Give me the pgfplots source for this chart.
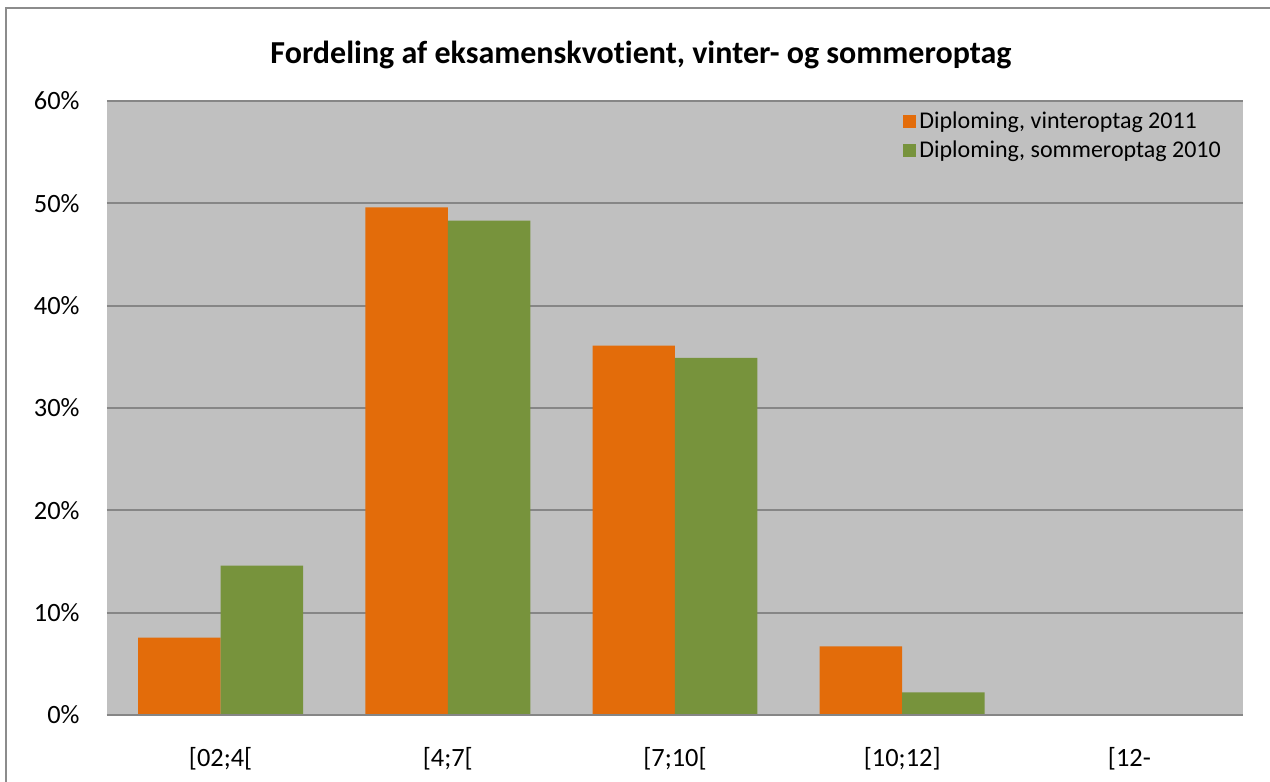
\documentclass[border=0pt]{standalone}
\usepackage{pgfplots}
\pgfplotsset{compat=1.18}
\usepackage{fontspec}
\setmainfont{Carlito}[Ligatures=NoCommon]
\definecolor{bgc}{HTML}{C0C0C0}
\definecolor{gridc}{HTML}{868686}
\definecolor{orng}{HTML}{E36C0A}
\definecolor{grn}{HTML}{77933C}
\definecolor{framec}{HTML}{8C8C8C}
\begin{document}
\begin{tikzpicture}
\useasboundingbox (-53.5pt,-33.5pt) rectangle (581.5pt,357.5pt);
\draw[framec, line width=0.8pt] (-50.5pt,-40pt) -- (-50.5pt,353.5pt) -- (600pt,353.5pt);
\node[font=\fontsize{16}{18}\selectfont\bfseries] at (267pt,330pt) {Fordeling af eksamenskvotient, vinter- og sommeroptag};
\begin{axis}[
  at={(0pt,0pt)}, anchor=south west,
  scale only axis, width=568pt, height=307pt,
  xmin=-0.5, xmax=4.5, ymin=0, ymax=60,
  ybar=0pt, bar width=0.363,
  axis background/.style={fill=bgc},
  axis line style={draw=none},
  ymajorgrids, major grid style={gridc, line width=1pt},
  xtick={0,1,2,3,4},
  xticklabels={{[02;4[},{[4;7[},{[7;10[},{[10;12]},{[12-}},
  ytick={0,10,20,30,40,50,60},
  yticklabels={0\%,10\%,20\%,30\%,40\%,50\%,60\%},
  major tick length=0pt,
  tick style={draw=none},
  tick label style={font=\fontsize{13.2}{15}\selectfont, inner sep=0pt},
  yticklabel style={anchor=east},
  xticklabel style={anchor=north},
  yticklabel shift=13.5pt,
  xticklabel shift=16pt,
  legend style={draw=none, fill=none, at={(0.7007,0.988)}, anchor=north west,
    font=\fontsize{12}{14}\selectfont, inner sep=0pt, row sep=1.5pt,
    legend cell align=left, nodes={inner sep=1.5pt}},
  legend image code/.code={\fill[#1] (0pt,-3.25pt) rectangle (6.5pt,3.25pt);},
]
\addplot[fill=orng, draw=none] coordinates {(0,7.55) (1,49.6) (2,36.1) (3,6.7) (4,0)};
\addplot[fill=grn, draw=none] coordinates {(0,14.6) (1,48.3) (2,34.9) (3,2.2) (4,0)};
\legend{{Diploming, vinteroptag 2011},{Diploming, sommeroptag 2010}}
\draw[gridc, line width=1pt] (rel axis cs:0,0) -- (rel axis cs:1,0);
\end{axis}
\end{tikzpicture}
\end{document}
